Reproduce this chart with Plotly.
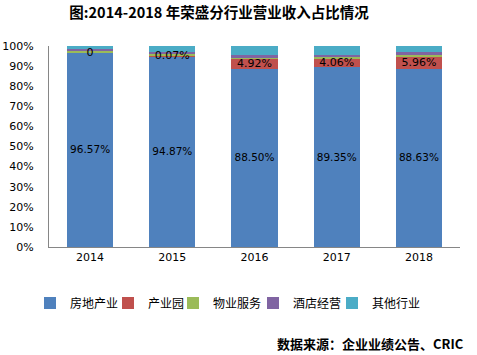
import plotly.graph_objects as go

years = ["2014", "2015", "2016", "2017", "2018"]
real_estate = [96.57, 94.87, 88.50, 89.35, 88.63]
industrial_park = [0.0, 0.07, 4.92, 4.06, 5.96]
property_service = [1.23, 1.26, 1.08, 1.19, 0.91]
hotel = [0.6, 0.7, 0.9, 0.9, 1.5]
other = [1.6, 3.1, 4.6, 4.5, 3.0]

re_labels = ["96.57%", "94.87%", "88.50%", "89.35%", "88.63%"]
park_labels = ["0", "0.07%", "4.92%", "4.06%", "5.96%"]

names = ["房地产业", "产业园", "物业服务", "酒店经营", "其他行业"]
colors = ["#4F81BD", "#C0504D", "#9BBB59", "#8064A2", "#4BACC6"]
series = [real_estate, industrial_park, property_service, hotel, other]

FONT = "DejaVu Sans, Noto Sans CJK SC, sans-serif"
CJK = "Noto Sans CJK SC, sans-serif"

# target left x (pixels) of each legend entry's text in the reference
legend_text_x = [65, 143, 208, 288, 367]
legend_ids = ["legend", "legend2", "legend3", "legend4", "legend5"]

fig = go.Figure()
for i, (n, c, s) in enumerate(zip(names, colors, series)):
    fig.add_trace(go.Bar(
        x=years, y=s, name=n, marker=dict(color=c, line=dict(width=0)),
        text=re_labels if i == 0 else None,
        textposition="inside" if i == 0 else "none",
        insidetextanchor="middle", textangle=0,
        textfont=dict(family=FONT, size=11, color="#000000"),
        hoverinfo="skip", legend=legend_ids[i],
    ))

park_y = [r + p / 2 for r, p in zip(real_estate, industrial_park)]
fig.add_trace(go.Scatter(
    x=years, y=park_y, mode="text", text=park_labels,
    textfont=dict(family=FONT, size=11, color="#000000"),
    showlegend=False, hoverinfo="skip", cliponaxis=False,
))

legend_layout = {}
for lid, tx in zip(legend_ids, legend_text_x):
    legend_layout[lid] = dict(
        orientation="h", x=(tx - 35 - 49) / 411, xanchor="left",
        y=-(303 - 247) / 201, yanchor="middle",
        font=dict(family=CJK, size=12, color="#000000"),
        itemwidth=30, bgcolor="rgba(0,0,0,0)", borderwidth=0,
    )

fig.update_layout(
    width=477, height=355,
    margin=dict(l=49, r=17, t=46, b=108, autoexpand=False),
    barmode="stack", bargap=0.44,
    plot_bgcolor="white", paper_bgcolor="white",
    showlegend=True,
    title=dict(text="<b>图:2014-2018 年荣盛分行业营业收入占比情况</b>",
               font=dict(family=CJK, size=14.5, color="#000000"),
               x=219 / 477, xanchor="center", xref="container",
               y=1 - 13 / 355, yanchor="middle", yref="container"),
    xaxis=dict(showline=True, linecolor="#868686", linewidth=1, ticks="",
               tickfont=dict(family=FONT, size=11, color="#000000"),
               showgrid=False),
    yaxis=dict(range=[0, 100], tickvals=list(range(0, 101, 10)),
               ticktext=[f"{v}%" for v in range(0, 101, 10)],
               showline=True, linecolor="#868686", linewidth=1, ticks="",
               showgrid=False, zeroline=False, ticklabelstandoff=12,
               tickfont=dict(family=FONT, size=11, color="#000000")),
    annotations=[dict(text="<b>数据来源：企业业绩公告、CRIC</b>",
                      xref="paper", yref="paper", x=(466 - 49) / 411,
                      xanchor="right", y=-(343 - 247) / 201, yanchor="middle",
                      showarrow=False,
                      font=dict(family=CJK, size=13, color="#000000"))],
    **legend_layout,
)

fig.write_html("out.html", config={"displayModeBar": False},
               post_script="document.body.style.margin='0';document.body.style.padding='0';")
